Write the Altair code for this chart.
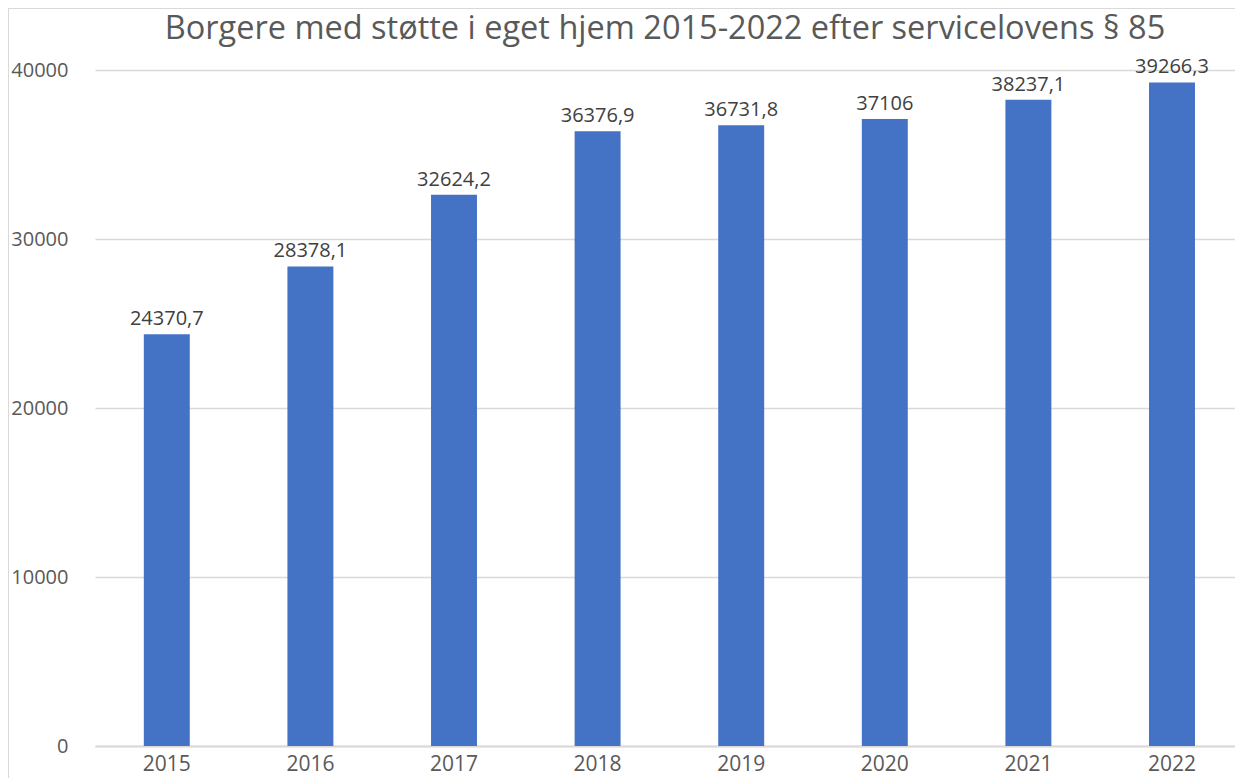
import altair as alt
import pandas as pd

years = ["2015", "2016", "2017", "2018", "2019", "2020", "2021", "2022"]
values = [24370.7, 28378.1, 32624.2, 36376.9, 36731.8, 37106, 38237.1, 39266.3]
y_ticks = [0, 10000, 20000, 30000, 40000]
title_text = "Borgere med støtte i eget hjem 2015-2022 efter servicelovens § 85"


def fmt(v):
    s = ("%.1f" % v).replace(".", ",")
    if s.endswith(",0"):
        s = s[:-2]
    return s


df = pd.DataFrame({"year": years, "value": values, "label": [fmt(v) for v in values]})

FONT = "Open Sans"
W, H = 1140, 676

x = alt.X(
    "year:N",
    sort=years,
    scale=alt.Scale(paddingInner=0.68, paddingOuter=0.34, range=[0, 1148.8]),
    axis=alt.Axis(
        title=None, labelAngle=0, ticks=False, labelPadding=7, labelFontSize=21,
        labelFont=FONT, labelColor="#595959", domainColor="#d9d9d9", domainWidth=2,
        grid=False,
    ),
)
y = alt.Y(
    "value:Q",
    scale=alt.Scale(domain=[0, 40000], nice=False),
    axis=alt.Axis(
        title=None, values=y_ticks, format="d", domain=False, ticks=False,
        labelPadding=27, labelFontSize=20, labelFont=FONT, labelColor="#595959",
        gridColor="#d9d9d9", gridWidth=1.5,
    ),
)

bars = alt.Chart(df).mark_bar(color="#4472C4").encode(x=x, y=y)
labels = alt.Chart(df).mark_text(
    baseline="alphabetic", dy=-9, fontSize=20, font=FONT, color="#404040"
).encode(x=x, y=y, text="label:N")

border = alt.Chart(df).mark_rect(
    filled=False, stroke="#d9d9d9", strokeWidth=1
).encode(
    x=alt.value(-86.5), x2=alt.value(1300), y=alt.value(-61.5), y2=alt.value(800)
)

chart = alt.layer(border, bars, labels).properties(
    width=W,
    height=H,
    autosize="none",
    padding={"left": 87, "top": 62, "right": 0, "bottom": 32},
    title=alt.TitleParams(
        title_text, fontSize=32.5, font=FONT, fontWeight="normal", color="#595959",
        anchor="middle", frame="group", baseline="alphabetic", offset=-63,
    ),
).configure_view(stroke=None)

chart.save("out.html", embed_options={"renderer": "svg", "actions": False})
